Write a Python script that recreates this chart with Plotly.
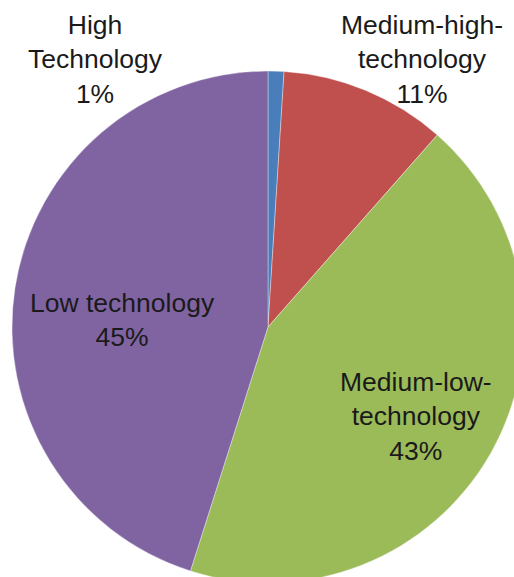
import plotly.graph_objects as go

# Data (clockwise from 12 o'clock)
categories = ["High<br>Technology", "Medium-high-<br>technology", "Medium-low-<br>technology", "Low technology"]
shares = [1.0, 10.5, 43.4, 45.1]
percent_labels = ["1%", "11%", "43%", "45%"]
colors = ["#4A7EBB", "#C0504D", "#9BBB59", "#8064A2"]

W, H = 526, 586
L, T, S = 12, 71, 512

fig = go.Figure(go.Pie(
    values=shares,
    labels=categories,
    sort=False,
    direction="clockwise",
    rotation=0,
    marker=dict(colors=colors, line=dict(color="rgba(255,255,255,0.6)", width=0.6)),
    textinfo="none",
    hoverinfo="label+percent",
    domain=dict(x=[0, 1], y=[0, 1]),
    showlegend=False,
))

# label anchor pixels (layout)
label_px = [(95, 59), (422, 59), (416, 416), (122, 320)]
anns = []
for cat, pct, (px, py) in zip(categories, percent_labels, label_px):
    anns.append(dict(
        text=f"{cat}<br>{pct}",
        x=(px - L) / S, y=1 - (py - T) / S,
        xref="paper", yref="paper",
        xanchor="center", yanchor="middle",
        showarrow=False,
        font=dict(family="Liberation Sans, Arial, sans-serif", size=26.5, color="#1a1a1a"),
    ))

fig.update_layout(
    width=W, height=H,
    margin=dict(l=L, r=W - L - S, t=T, b=H - T - S, pad=0),
    paper_bgcolor="white",
    plot_bgcolor="white",
    annotations=anns,
)

fig.write_html("out.html", config={"displayModeBar": False},
               post_script="document.body.style.margin='0';document.body.style.overflow='hidden';")
